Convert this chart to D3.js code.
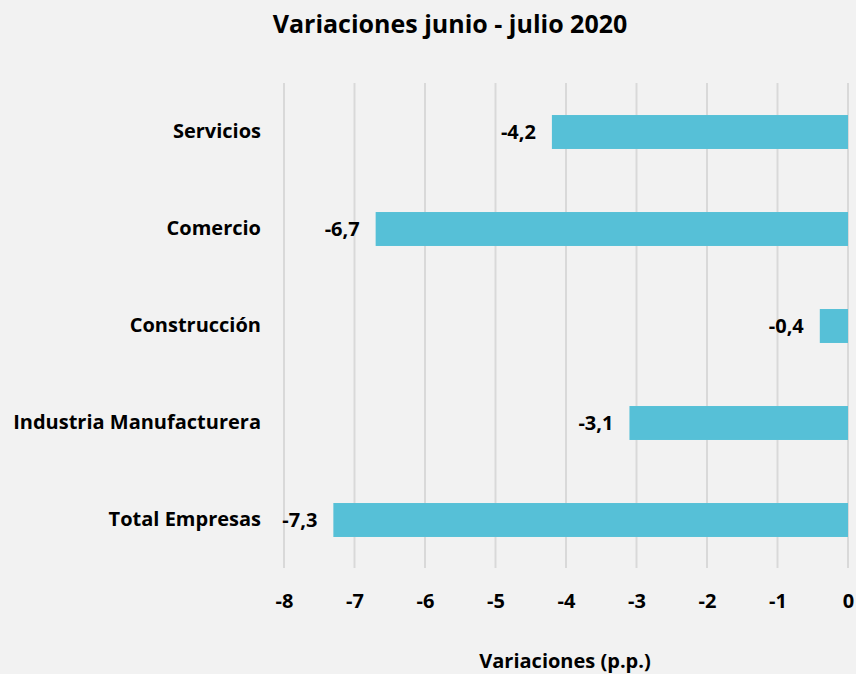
<!DOCTYPE html>
<html><head><meta charset="utf-8">
<script src="https://cdn.jsdelivr.net/npm/d3@7"></script>
<style>
body{margin:0;background:#F2F2F2;}
svg{display:block;font-family:"Open Sans","Noto Sans",sans-serif;}
</style></head>
<body>
<svg id="chart" width="856" height="674"></svg>
<script>
const categories = ["Servicios","Comercio","Construcción","Industria Manufacturera","Total Empresas"];
const values = [-4.2,-6.7,-0.4,-3.1,-7.3];
const tickValues = [-8,-7,-6,-5,-4,-3,-2,-1,0];
const title = "Variaciones junio - julio 2020";
const xTitle = "Variaciones (p.p.)";

const svg = d3.select("#chart");
svg.append("rect").attr("width",856).attr("height",674).attr("fill","#F2F2F2");

const x = d3.scaleLinear().domain([-8,0]).range([284,848]);
const y = d3.scaleBand().domain(categories).range([83.5,568.5]).paddingInner(0.65).paddingOuter(0.325);

// grid
svg.append("g").selectAll("line").data(tickValues).join("line")
  .attr("x1",d=>x(d)).attr("x2",d=>x(d)).attr("y1",83).attr("y2",568)
  .attr("stroke","#D9D9D9").attr("stroke-width",2);

// bars
svg.append("g").selectAll("rect").data(categories).join("rect")
  .attr("x",(d,i)=>x(values[i])).attr("width",(d,i)=>x(0)-x(values[i]))
  .attr("y",d=>y(d)).attr("height",y.bandwidth())
  .attr("fill","#56C0D7");

// value labels
const fmt = v => d3.format(".1f")(v).replace("−","-").replace(".",",");
svg.append("g").selectAll("text").data(categories).join("text")
  .attr("x",(d,i)=>x(values[i])-16).attr("y",d=>y(d)+y.bandwidth()/2)
  .attr("dy","0.35em").attr("text-anchor","end")
  .attr("font-size",20).attr("font-weight",700).attr("fill","#000")
  .text((d,i)=>fmt(values[i]));

// category labels
const yAxis = d3.axisLeft(y).tickSize(0).tickPadding(0);
const ya = svg.append("g").attr("transform","translate(261,0)").call(yAxis);
ya.select(".domain").remove();
ya.selectAll("text").attr("font-size",20).attr("font-weight",700).attr("fill","#000")
  .attr("font-family","'Open Sans','Noto Sans',sans-serif");

// x axis
const xAxis = d3.axisBottom(x).tickValues(tickValues).tickSize(0).tickPadding(0).tickFormat(d=>String(d).replace("−","-"));
const xa = svg.append("g").attr("transform","translate(0,594)").call(xAxis);
xa.select(".domain").remove();
xa.selectAll("text").attr("font-size",20).attr("font-weight",700).attr("fill","#000")
  .attr("font-family","'Open Sans','Noto Sans',sans-serif");

// titles
svg.append("text").attr("x",450).attr("y",33).attr("text-anchor","middle")
  .attr("font-size",25).attr("font-weight",700).text(title);
svg.append("text").attr("x",565).attr("y",668).attr("text-anchor","middle")
  .attr("font-size",20).attr("font-weight",700).text(xTitle);
</script>
</body></html>
